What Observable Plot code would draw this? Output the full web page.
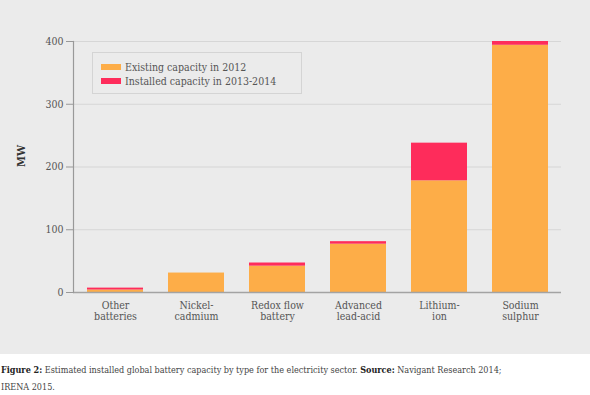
<!DOCTYPE html>
<html>
<head>
<meta charset="utf-8">
<script src="https://cdn.jsdelivr.net/npm/d3@7"></script>
<script src="https://cdn.jsdelivr.net/npm/@observablehq/plot@0.6"></script>
<style>
  body { margin: 0; background: #fff; font-family: "DejaVu Serif Condensed", "DejaVu Serif", serif; }
  #wrap { position: relative; width: 590px; }
  #legend { position: absolute; left: 92px; top: 52px; width: 208px; height: 40px; border: 1px solid #d4d4d4; font-size: 10.5px; color: #555; }
  .item { position: absolute; left: 8px; display: flex; align-items: center; height: 12px; }
  .sw { width: 20px; height: 6px; margin-right: 4px; }
  #caption { font-size: 9px; color: #444; line-height: 17px; margin-top: 8px; padding-left: 1px; white-space: nowrap; }
  #caption b { color: #222; font-weight: bold; }
</style>
</head>
<body>
<div id="wrap">
  <div id="chart"></div>
  <div id="legend"></div>
</div>
<div id="caption"><b>Figure 2:</b> Estimated installed global battery capacity by type for the electricity sector. <b>Source:</b> Navigant Research 2014;<br>IRENA 2015.</div>
<script>
const categories = ["Other batteries", "Nickel-cadmium", "Redox flow battery", "Advanced lead-acid", "Lithium-ion", "Sodium sulphur"];
const categoryLabels = ["Other\nbatteries", "Nickel-\ncadmium", "Redox flow\nbattery", "Advanced\nlead-acid", "Lithium-\nion", "Sodium\nsulphur"];
const existing2012 = [4, 31, 42, 77, 178, 394];
const installed2013_2014 = [3, 0, 5, 4, 60, 6];
const seriesNames = ["Existing capacity in 2012", "Installed capacity in 2013-2014"];
const seriesColors = ["#FDAD48", "#FE2C5B"];
const yTicks = [0, 100, 200, 300, 400];

const data = [];
categories.forEach((c, i) => {
  data.push({type: c, series: seriesNames[0], value: existing2012[i]});
  data.push({type: c, series: seriesNames[1], value: installed2013_2014[i]});
});
const labelOf = new Map(categories.map((c, i) => [c, categoryLabels[i]]));

const chart = Plot.plot({
  width: 590,
  height: 354,
  marginLeft: 73,
  marginRight: 29,
  marginTop: 41,
  marginBottom: 62,
  style: {background: "#EBEBEB", fontFamily: "'DejaVu Serif Condensed', 'DejaVu Serif', serif", fontSize: "10.5px", color: "#555"},
  x: {domain: categories, paddingInner: 0.31, paddingOuter: 0.155, label: null},
  y: {domain: [0, 400], label: null},
  color: {domain: seriesNames, range: seriesColors},
  marks: [
    Plot.gridY(yTicks, {stroke: "#d6d6d6", strokeOpacity: 1, strokeWidth: 1.2}),
    Plot.barY(data, {x: "type", y: "value", fill: "series", order: seriesNames}),
    Plot.axisY(yTicks, {tickSize: 7, tickPadding: 3, stroke: "#999", fill: "#555", label: null}),
    Plot.axisX({tickSize: 0, tickPadding: 8, tickFormat: d => labelOf.get(d), lineHeight: 1.1, fill: "#555", label: null}),
    Plot.ruleY([0], {stroke: "#a3a3a3", strokeWidth: 1.6}),
    Plot.frame({anchor: "left", stroke: "#999", strokeWidth: 1.2}),
    Plot.text(["MW"], {frameAnchor: "left", dx: -52, rotate: -90, fontWeight: "bold", fill: "#333", fontSize: 11})
  ]
});
document.getElementById("chart").appendChild(chart);

const legend = document.getElementById("legend");
seriesNames.forEach((s, i) => {
  const item = document.createElement("div");
  item.className = "item";
  item.style.top = (8 + i * 14) + "px";
  item.innerHTML = `<span class="sw" style="background:${seriesColors[i]}"></span><span>${s}</span>`;
  legend.appendChild(item);
});
</script>
</body>
</html>
